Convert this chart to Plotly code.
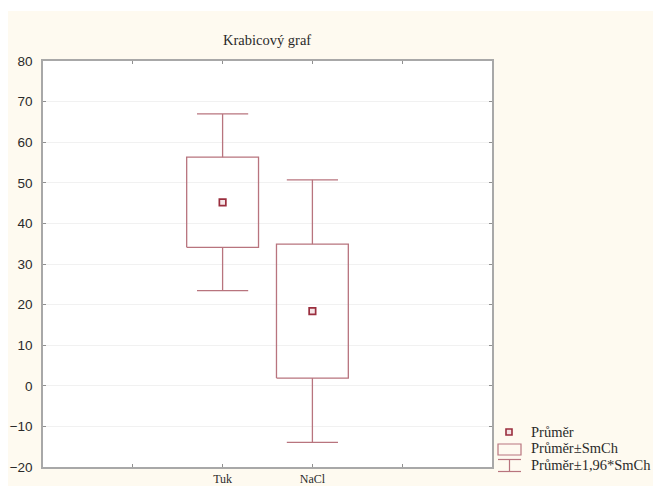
import plotly.graph_objects as go

# Group means and standard errors
categories = ["Tuk", "NaCl"]
positions = [2, 3]
means = [45.2, 18.4]
std_errors = [11.1, 16.5]
z_factor = 1.96

tick_positions = [1, 2, 3, 4]
tick_labels = ["", "Tuk", "NaCl", ""]
y_ticks = [-20, -10, 0, 10, 20, 30, 40, 50, 60, 70, 80]

box_color = "#B8747E"
mean_color = "#9A2E3E"
box_half = 0.4
cap_half = 0.285
serif = "Times New Roman, Liberation Serif, DejaVu Serif, serif"

fig = go.Figure()

for pos, m, se in zip(positions, means, std_errors):
    lo, hi = m - se, m + se
    wlo, whi = m - z_factor * se, m + z_factor * se
    # box: mean ± SE
    fig.add_trace(go.Scatter(
        x=[pos - box_half, pos + box_half, pos + box_half, pos - box_half, pos - box_half],
        y=[lo, lo, hi, hi, lo], mode="lines",
        line=dict(color=box_color, width=1.3), hoverinfo="skip", showlegend=False))
    # whiskers: mean ± 1.96*SE
    fig.add_trace(go.Scatter(
        x=[pos, pos, None, pos, pos, None,
           pos - cap_half, pos + cap_half, None, pos - cap_half, pos + cap_half],
        y=[hi, whi, None, lo, wlo, None, whi, whi, None, wlo, wlo], mode="lines",
        line=dict(color=box_color, width=1.3), hoverinfo="skip", showlegend=False))

# mean markers
fig.add_trace(go.Scatter(
    x=positions, y=means, mode="markers",
    marker=dict(symbol="square", size=6.5, color="#F4E4E6",
                line=dict(color=mean_color, width=1.7)),
    showlegend=False))

L, R, T, B = 43, 161, 61, 19
W, H = 653, 486
pw, ph = W - L - R, H - T - B


def px(x):
    return (x - L) / pw


def py(y):
    return (H - B - y) / ph


shapes = [
    # cream page background
    dict(type="rect", xref="paper", yref="paper", x0=px(8), x1=px(W + 2),
         y0=py(H + 2), y1=py(11), fillcolor="#FEFAF0", line=dict(width=0), layer="below"),
    # white plot area
    dict(type="rect", xref="paper", yref="paper", x0=0, x1=1, y0=0, y1=1,
         fillcolor="white", line=dict(width=0), layer="below"),
    # legend symbols
    dict(type="rect", xref="paper", yref="paper", x0=px(506), x1=px(512),
         y0=py(435), y1=py(429), fillcolor="#F4E4E6",
         line=dict(color=mean_color, width=1.6)),
    dict(type="rect", xref="paper", yref="paper", x0=px(498), x1=px(521),
         y0=py(455), y1=py(444), line=dict(color=box_color, width=1.2)),
    dict(type="line", xref="paper", yref="paper", x0=px(498), x1=px(521),
         y0=py(459.5), y1=py(459.5), line=dict(color=box_color, width=1.2)),
    dict(type="line", xref="paper", yref="paper", x0=px(509.5), x1=px(509.5),
         y0=py(459.5), y1=py(471.5), line=dict(color=box_color, width=1.2)),
    dict(type="line", xref="paper", yref="paper", x0=px(498), x1=px(521),
         y0=py(471.5), y1=py(471.5), line=dict(color=box_color, width=1.2)),
]

legend_texts = ["Průměr", "Průměr±SmCh", "Průměr±1,96*SmCh"]
legend_rows = [432, 448, 465]
annotations = [
    dict(text="Krabicový graf", xref="paper", yref="paper", x=px(267), y=py(40),
         xanchor="center", yanchor="middle", showarrow=False,
         font=dict(family=serif, size=14.5, color="#2A2A2A")),
]
for txt, row in zip(legend_texts, legend_rows):
    annotations.append(dict(text=txt, xref="paper", yref="paper", x=px(529), y=py(row),
                            xanchor="left", yanchor="middle", showarrow=False,
                            font=dict(family=serif, size=14.5, color="#2A2A2A")))

fig.update_layout(
    width=W, height=H,
    margin=dict(l=L, r=R, t=T, b=B, autoexpand=False),
    paper_bgcolor="white", plot_bgcolor="white",
    showlegend=False,
    shapes=shapes, annotations=annotations,
    xaxis=dict(range=[0, 5], tickvals=tick_positions, ticktext=tick_labels,
               showgrid=False, zeroline=False, showline=True, linecolor="#A8A8A8",
               linewidth=1.5, mirror="ticks", ticks="inside", ticklen=3,
               tickcolor="#909090", tickwidth=1, automargin=False,
               tickfont=dict(family=serif, size=12, color="#2A2A2A"),
               ticklabelstandoff=0),
    yaxis=dict(range=[-20, 80], tickvals=y_ticks, showgrid=True, gridcolor="#F1F1F1",
               gridwidth=1, zeroline=False, showline=True, linecolor="#A8A8A8",
               linewidth=1.5, mirror="ticks", ticks="inside", ticklen=3,
               tickcolor="#909090", tickwidth=1, automargin=False,
               tickfont=dict(family="Liberation Sans, Arial, sans-serif", size=13.5,
                             color="#2A2A2A"),
               ticklabelstandoff=6),
)

fig.write_html("out.html")
